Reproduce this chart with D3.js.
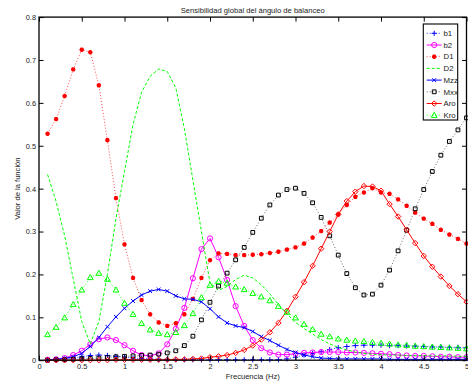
<!DOCTYPE html>
<html>
<head>
<meta charset="utf-8">
<script src="https://cdn.jsdelivr.net/npm/d3@7/dist/d3.min.js"></script>
<style>
  html, body { margin: 0; padding: 0; background: #fff; }
  svg { display: block; font-family: "Liberation Sans", Arial, Helvetica, sans-serif; }
</style>
</head>
<body>
<svg id="chart" width="468" height="382"></svg>
<script>
// Frequency grid (Hz)
const freq = [0.1,0.2,0.3,0.4,0.5,0.6,0.7,0.8,0.9,1.0,
              1.1,1.2,1.3,1.4,1.5,1.6,1.7,1.8,1.9,2.0,
              2.1,2.2,2.3,2.4,2.5,2.6,2.7,2.8,2.9,3.0,
              3.1,3.2,3.3,3.4,3.5,3.6,3.7,3.8,3.9,4.0,
              4.1,4.2,4.3,4.4,4.5,4.6,4.7,4.8,4.9,5.0];

// Global sensitivity of each parameter
const b1  = [0.001,0.002,0.003,0.005,0.008,0.011,0.012,0.011,0.009,0.007,
             0.005,0.004,0.003,0.002,0.002,0.001,0.001,0.001,0.001,0.001,
             0.001,0.001,0.001,0.001,0.001,0.001,0.001,0.001,0.003,0.007,
             0.012,0.016,0.020,0.025,0.029,0.032,0.034,0.035,0.035,0.035,
             0.034,0.034,0.033,0.033,0.032,0.031,0.031,0.030,0.030,0.029];
const b2  = [0.001,0.002,0.005,0.012,0.022,0.037,0.049,0.053,0.047,0.035,
             0.022,0.012,0.010,0.016,0.037,0.073,0.122,0.191,0.259,0.284,
             0.240,0.187,0.126,0.080,0.047,0.028,0.018,0.013,0.013,0.015,
             0.017,0.018,0.019,0.019,0.019,0.018,0.018,0.017,0.016,0.015,
             0.014,0.012,0.011,0.010,0.010,0.009,0.008,0.008,0.007,0.007];
const D1  = [0.528,0.562,0.616,0.678,0.724,0.718,0.641,0.513,0.378,0.270,
             0.192,0.140,0.107,0.088,0.080,0.086,0.107,0.143,0.192,0.233,
             0.249,0.248,0.245,0.245,0.246,0.247,0.250,0.253,0.258,0.263,
             0.272,0.286,0.301,0.321,0.340,0.362,0.381,0.391,0.401,0.391,
             0.388,0.375,0.360,0.344,0.330,0.318,0.304,0.293,0.283,0.272];
const D2  = [0.433,0.370,0.290,0.190,0.090,0.038,0.090,0.200,0.330,0.440,
             0.550,0.625,0.662,0.679,0.673,0.635,0.540,0.420,0.300,0.180,
             0.163,0.172,0.188,0.198,0.192,0.176,0.155,0.130,0.108,0.088,
             0.074,0.061,0.048,0.038,0.030,0.024,0.019,0.016,0.014,0.013,
             0.012,0.012,0.011,0.011,0.011,0.010,0.010,0.010,0.009,0.009];
const Mzz = [0.001,0.002,0.004,0.008,0.016,0.032,0.053,0.078,0.101,0.121,
             0.138,0.152,0.161,0.165,0.161,0.150,0.143,0.142,0.136,0.120,
             0.101,0.087,0.080,0.076,0.067,0.055,0.046,0.035,0.025,0.018,
             0.012,0.008,0.005,0.004,0.003,0.003,0.003,0.003,0.003,0.003,
             0.002,0.002,0.002,0.002,0.002,0.002,0.002,0.002,0.002,0.002];
const Mxx = [0.000,0.001,0.001,0.002,0.003,0.004,0.005,0.006,0.008,0.009,
             0.010,0.011,0.012,0.014,0.017,0.022,0.034,0.056,0.094,0.135,
             0.173,0.203,0.234,0.263,0.298,0.331,0.362,0.385,0.398,0.401,
             0.389,0.367,0.333,0.290,0.245,0.202,0.169,0.152,0.154,0.175,
             0.210,0.255,0.303,0.353,0.398,0.440,0.478,0.510,0.537,0.565];
const Aro = [0.000,0.000,0.000,0.000,0.000,0.000,0.000,0.000,0.001,0.001,
             0.001,0.001,0.001,0.001,0.001,0.002,0.002,0.003,0.004,0.007,
             0.009,0.012,0.017,0.024,0.034,0.048,0.065,0.087,0.115,0.148,
             0.182,0.220,0.260,0.300,0.340,0.371,0.393,0.406,0.405,0.395,
             0.364,0.335,0.304,0.273,0.243,0.218,0.195,0.173,0.154,0.136];
const Kro = [0.060,0.077,0.099,0.130,0.164,0.193,0.203,0.189,0.164,0.133,
             0.107,0.086,0.071,0.063,0.060,0.065,0.081,0.109,0.146,0.175,
             0.184,0.180,0.171,0.165,0.156,0.148,0.139,0.126,0.112,0.099,
             0.084,0.072,0.061,0.055,0.050,0.047,0.045,0.044,0.042,0.040,
             0.038,0.036,0.035,0.033,0.032,0.031,0.030,0.029,0.028,0.027];

const seriesNames = ["b1","b2","D1","D2","Mzz","Mxx","Aro","Kro"];

// Axis ticks and labels
const xTicks = [0,0.5,1,1.5,2,2.5,3,3.5,4,4.5,5];
const xTickLabels = ["0","0.5","1","1.5","2","2.5","3","3.5","4","4.5","5"];
const yTicks = [0,0.1,0.2,0.3,0.4,0.5,0.6,0.7,0.8];
const yTickLabels = ["0","0.1","0.2","0.3","0.4","0.5","0.6","0.7","0.8"];

const titleText = "Sensibilidad global del ángulo de balanceo";
const xLabelText = "Frecuencia (Hz)";
const yLabelText = "Valor de la función";

// Line and marker styling per series
const styles = {
  b1:  {color: "#0000ff", dash: "1,2", width: 0.8, marker: "plus"},
  b2:  {color: "#ff00ff", dash: null,  width: 1,   marker: "circle"},
  D1:  {color: "#ff0000", dash: "1,2", width: 0.7, marker: "star"},
  D2:  {color: "#00ff00", dash: "3,2", width: 1,   marker: null},
  Mzz: {color: "#0000ff", dash: null,  width: 1,   marker: "cross"},
  Mxx: {color: "#000000", dash: "1,2", width: 0.6, marker: "square"},
  Aro: {color: "#ff0000", dash: null,  width: 1,   marker: "diamond"},
  Kro: {color: "#00ff00", dash: "1,2", width: 0.8, marker: "triangle"}
};
const dataByName = {b1, b2, D1, D2, Mzz, Mxx, Aro, Kro};

const svg = d3.select("#chart");
const plotLeft = 39, plotRight = 466.5, plotTop = 17.1, plotBottom = 360.2;

const x = d3.scaleLinear().domain([0, 5]).range([plotLeft, plotRight]);
const y = d3.scaleLinear().domain([0, 0.8]).range([plotBottom, plotTop]);

function markerPath(type, cx, cy) {
  switch (type) {
    case "plus": {
      const s = 2.6;
      return `M${cx - s},${cy}H${cx + s}M${cx},${cy - s}V${cy + s}`;
    }
    case "cross": {
      const s = 1.9;
      return `M${cx - s},${cy - s}L${cx + s},${cy + s}M${cx - s},${cy + s}L${cx + s},${cy - s}`;
    }
    case "star": {
      const s = 2.2, d = 1.6;
      return `M${cx - s},${cy}H${cx + s}M${cx},${cy - s}V${cy + s}` +
             `M${cx - d},${cy - d}L${cx + d},${cy + d}M${cx - d},${cy + d}L${cx + d},${cy - d}`;
    }
    case "circle": {
      const r = 2.6;
      return `M${cx + r},${cy}A${r},${r} 0 1,1 ${cx - r},${cy}A${r},${r} 0 1,1 ${cx + r},${cy}Z`;
    }
    case "square": {
      const s = 1.9;
      return `M${cx - s},${cy - s}H${cx + s}V${cy + s}H${cx - s}Z`;
    }
    case "diamond": {
      const s = 2.7;
      return `M${cx},${cy - s}L${cx + s},${cy}L${cx},${cy + s}L${cx - s},${cy}Z`;
    }
    case "triangle": {
      const s = 2.9;
      return `M${cx},${cy - s}L${cx + s},${cy + s * 0.75}L${cx - s},${cy + s * 0.75}Z`;
    }
  }
  return "";
}

const defs = svg.append("defs");
// Plot area clip
defs.append("clipPath").attr("id", "plotClip")
  .append("rect").attr("x", plotLeft).attr("y", plotTop - 4)
  .attr("width", plotRight - plotLeft + 4).attr("height", plotBottom - plotTop + 8);

const plot = svg.append("g").attr("clip-path", "url(#plotClip)");
const line = d3.line().x((d, i) => x(freq[i])).y(d => y(d));

seriesNames.forEach(name => {
  const st = styles[name];
  const vals = dataByName[name];
  const g = plot.append("g").attr("class", "series-" + name);
  g.append("path")
    .attr("d", line(vals))
    .attr("fill", "none")
    .attr("stroke", st.color)
    .attr("stroke-width", st.width)
    .attr("stroke-dasharray", st.dash);
  if (st.marker) {
    g.selectAll("path.mk").data(vals).join("path")
      .attr("class", "mk")
      .attr("d", (d, i) => markerPath(st.marker, x(freq[i]), y(d)))
      .attr("fill", "none")
      .attr("stroke", st.color)
      .attr("stroke-width", st.marker === "star" ? 1.4 : 1);
  }
});

// Axes with inward ticks on all four sides
const fontSize = 7.4;
const xAxisB = d3.axisBottom(x).tickValues(xTicks)
  .tickFormat((d, i) => xTickLabels[i]).tickSizeInner(-4.5).tickSizeOuter(0).tickPadding(3.5);
const xAxisT = d3.axisTop(x).tickValues(xTicks).tickFormat("").tickSizeInner(-4.5).tickSizeOuter(0);
const yAxisL = d3.axisLeft(y).tickValues(yTicks)
  .tickFormat((d, i) => yTickLabels[i]).tickSizeInner(-4.5).tickSizeOuter(0).tickPadding(3);
const yAxisR = d3.axisRight(y).tickValues(yTicks).tickFormat("").tickSizeInner(-4.5).tickSizeOuter(0);

function styleAxis(g) {
  g.select(".domain").remove();
  g.selectAll(".tick line").attr("stroke", "#000").attr("stroke-width", 1);
  g.selectAll(".tick text").attr("fill", "#222").style("font-size", fontSize + "px")
    .style("font-family", '"Liberation Sans", Arial, sans-serif');
}
svg.append("g").attr("transform", `translate(0,${plotBottom})`).call(xAxisB).call(styleAxis);
svg.append("g").attr("transform", `translate(0,${plotTop})`).call(xAxisT).call(styleAxis);
svg.append("g").attr("transform", `translate(${plotLeft},0)`).call(yAxisL).call(styleAxis);
svg.append("g").attr("transform", `translate(${plotRight},0)`).call(yAxisR).call(styleAxis);

// Axes frame
svg.append("rect")
  .attr("x", plotLeft).attr("y", plotTop)
  .attr("width", plotRight - plotLeft).attr("height", plotBottom - plotTop)
  .attr("fill", "none").attr("stroke", "#000").attr("stroke-width", 1.3);

// Title and axis labels
svg.append("text").attr("x", (plotLeft + plotRight) / 2).attr("y", 12.5)
  .attr("text-anchor", "middle").attr("fill", "#222")
  .style("font-size", "7.6px").text(titleText);
svg.append("text").attr("x", (plotLeft + plotRight) / 2).attr("y", 378.5)
  .attr("text-anchor", "middle").attr("fill", "#222")
  .style("font-size", "7.6px").text(xLabelText);
svg.append("text")
  .attr("transform", `translate(20,${(plotTop + plotBottom) / 2}) rotate(-90)`)
  .attr("text-anchor", "middle").attr("fill", "#222")
  .style("font-size", "7.6px").text(yLabelText);

// Legend (labels are clipped by the box edge)
const lg = {x: 423.3, y: 24, w: 34.4, h: 96, row0: 33.3, step: 11.7};
defs.append("clipPath").attr("id", "legendClip")
  .append("rect").attr("x", lg.x).attr("y", lg.y).attr("width", lg.w - 0.6).attr("height", lg.h);
svg.append("rect").attr("x", lg.x).attr("y", lg.y).attr("width", lg.w).attr("height", lg.h)
  .attr("fill", "#fff").attr("stroke", "#000").attr("stroke-width", 1.1);
const legend = svg.append("g").attr("clip-path", "url(#legendClip)");
seriesNames.forEach((name, i) => {
  const st = styles[name];
  const cy = lg.row0 + i * lg.step;
  legend.append("line")
    .attr("x1", 426.7).attr("x2", 441.7).attr("y1", cy).attr("y2", cy)
    .attr("stroke", st.color).attr("stroke-width", st.width)
    .attr("stroke-dasharray", st.dash);
  if (st.marker) {
    legend.append("path").attr("d", markerPath(st.marker, 434.2, cy))
      .attr("fill", "none").attr("stroke", st.color)
      .attr("stroke-width", st.marker === "star" ? 1.4 : 1);
  }
  legend.append("text").attr("x", 443.5).attr("y", cy + 2.7)
    .attr("fill", "#222").style("font-size", "7.8px").text(name);
});
</script>
</body>
</html>
